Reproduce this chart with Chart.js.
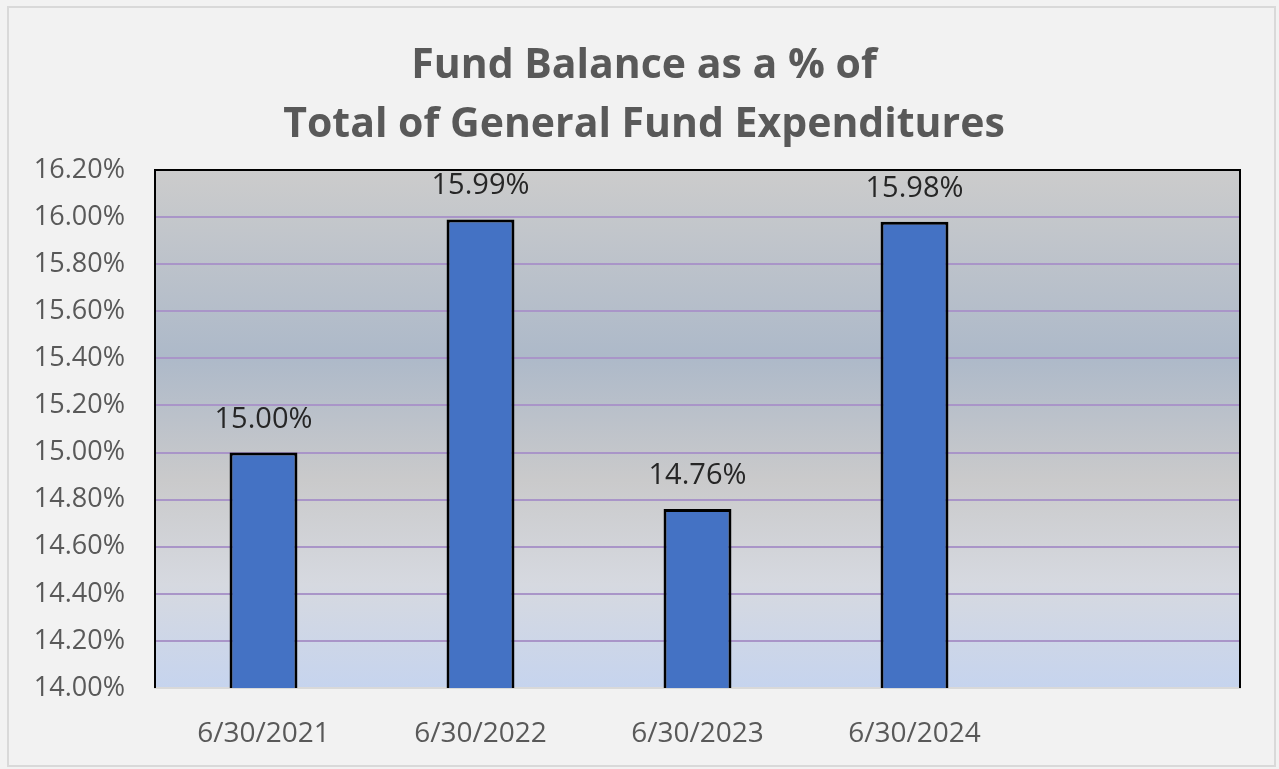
<!DOCTYPE html>
<html>
<head>
<meta charset="utf-8">
<script src="https://cdn.jsdelivr.net/npm/chart.js@4.4.1/dist/chart.umd.min.js"></script>
<style>
  html, body { margin: 0; padding: 0; background: #f2f2f2; }
  #wrap { position: relative; width: 1279px; height: 769px; }
</style>
</head>
<body>
<div id="wrap"><canvas id="myChart" width="1279" height="769"></canvas></div>
<script>
const categories = ['6/30/2021', '6/30/2022', '6/30/2023', '6/30/2024', ''];
const fundBalancePct = [15.00, 15.99, 14.76, 15.98, null];
const yTicks = { min: 14.0, max: 16.2, step: 0.2 };
const titleLines = ['Fund Balance as a % of', 'Total of General Fund Expenditures'];

const FONT = '"Open Sans", "Liberation Sans", sans-serif';

// page frame, gradient plot background and the two-line title
// (title drawn here because it sits off-centre of the canvas in the original)
const frame = {
    id: 'frame',
    beforeDraw(chart) {
        const { ctx, chartArea: a } = chart;
        ctx.save();
        ctx.fillStyle = '#f2f2f2';
        ctx.fillRect(0, 0, chart.width, chart.height);
        ctx.strokeStyle = '#d9d9d9';
        ctx.lineWidth = 2;
        ctx.strokeRect(8, 7, 1267, 759);
        const g = ctx.createLinearGradient(0, a.top, 0, a.bottom);
        g.addColorStop(0, '#cccccc');
        g.addColorStop(0.36, '#adb9c9');
        g.addColorStop(0.6, '#cacacb');
        g.addColorStop(0.8, '#d6d9e0');
        g.addColorStop(1, '#c6d4ee');
        ctx.fillStyle = g;
        ctx.fillRect(a.left, a.top, a.right - a.left, a.bottom - a.top);

        ctx.fillStyle = '#595959';
        ctx.font = 'bold 41px ' + FONT;
        ctx.textAlign = 'center';
        ctx.textBaseline = 'middle';
        titleLines.forEach((t, i) => ctx.fillText(t, 644, 66 + i * 59));
        ctx.restore();
    },
    afterDraw(chart) {
        const { ctx, chartArea: a } = chart;
        ctx.save();
        ctx.strokeStyle = '#000';
        ctx.lineWidth = 2;
        ctx.beginPath();
        ctx.moveTo(a.left, a.bottom);
        ctx.lineTo(a.left, a.top);
        ctx.lineTo(a.right, a.top);
        ctx.lineTo(a.right, a.bottom);
        ctx.stroke();
        ctx.restore();
    }
};

const valueLabels = {
    id: 'valueLabels',
    afterDatasetsDraw(chart) {
        const { ctx } = chart;
        const meta = chart.getDatasetMeta(0);
        ctx.save();
        ctx.font = '29px ' + FONT;
        ctx.fillStyle = '#262626';
        ctx.textAlign = 'center';
        ctx.textBaseline = 'alphabetic';
        meta.data.forEach((bar, i) => {
            const v = fundBalancePct[i];
            if (v == null) return;
            ctx.fillText(v.toFixed(2) + '%', bar.x, bar.y - 25);
        });
        ctx.restore();
    }
};

const ctx = document.getElementById('myChart').getContext('2d');
const myChart = new Chart(ctx, {
    type: 'bar',
    data: {
        labels: categories,
        datasets: [{
            data: fundBalancePct,
            backgroundColor: '#4472c4',
            borderColor: '#000000',
            borderWidth: 3,
            categoryPercentage: 1,
            barPercentage: 0.313,
        }]
    },
    options: {
        responsive: false,
        animation: false,
        layout: { padding: { top: 170, right: 39, left: 0, bottom: 0 } },
        plugins: {
            legend: { display: false },
            tooltip: { enabled: false },
            title: { display: false },
        },
        scales: {
            x: {
                grid: { display: false },
                border: { display: true, color: '#d9d9d9', width: 2 },
                ticks: {
                    color: '#595959',
                    font: { family: FONT, size: 28 },
                    padding: 21,
                    maxRotation: 0,
                },
                afterFit(scale) { scale.height = 81; },
            },
            y: {
                min: yTicks.min,
                max: yTicks.max,
                grid: { color: '#a995c8', lineWidth: 2, drawTicks: false },
                border: { display: false },
                ticks: {
                    stepSize: yTicks.step,
                    color: '#595959',
                    font: { family: FONT, size: 27 },
                    padding: 30,
                    callback: (v) => v.toFixed(2) + '%',
                },
                afterFit(scale) { scale.width = 155; },
            }
        }
    },
    plugins: [frame, valueLabels],
});
</script>
</body>
</html>
